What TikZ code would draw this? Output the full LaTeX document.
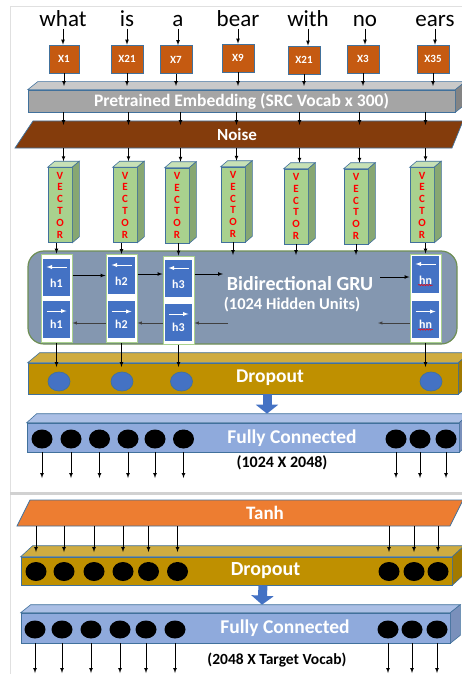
\documentclass[tikz,border=0pt]{standalone}
\usepackage{fontspec}
\setmainfont{Carlito}
\usetikzlibrary{shapes.geometric}
\usetikzlibrary{arrows,arrows.meta}
\usetikzlibrary{positioning}
\usetikzlibrary{decorations.pathmorphing}

\definecolor{tokorange}{HTML}{C55A11}
\definecolor{edgeblue}{HTML}{41719C}
\definecolor{embgray}{HTML}{A5A5A5}
\definecolor{noisebrown}{HTML}{843C0C}
\definecolor{vecgreen}{HTML}{A9D18E}
\definecolor{grublue}{HTML}{8497B0}
\definecolor{gruedge}{HTML}{6F8F55}
\definecolor{cellblue}{HTML}{4472C4}
\definecolor{dropgold}{HTML}{BF9000}
\definecolor{fcblue}{HTML}{8FAADC}
\definecolor{tanhorange}{HTML}{ED7D31}

\tikzset{
  word/.style={font=\fontsize{23}{23}\selectfont, inner sep=1pt, anchor=base},
  xbox/.style={draw=edgeblue, fill=tokorange, minimum width=32pt, minimum height=28pt,
    inner sep=0pt, text=white, font=\bfseries\fontsize{11}{11}\selectfont},
  slab/.style={draw=edgeblue, line width=0.6pt, inner sep=0pt},
  vec/.style={slab, fill=vecgreen, minimum width=24pt, minimum height=75pt, align=center,
    text=red, font=\bfseries\fontsize{11}{11.8}\selectfont},
  gru/.style={draw=gruedge, fill=grublue, line width=1.2pt, rounded corners=16pt,
    minimum width=429pt, minimum height=93pt},
  hcol/.style={draw=vecgreen, fill=white, line width=1pt, minimum width=31pt, minimum height=88pt},
  hcell/.style={fill=cellblue, minimum width=27pt, minimum height=37pt, inner sep=0pt},
  hlabel/.style={text=white, inner sep=0.5pt, font=\bfseries\fontsize{12}{12}\selectfont},
  cellarrow/.style={white, line width=0.9pt},
  bandtext/.style={text=white, inner sep=0pt, font=\bfseries\fontsize{19.5}{19.5}\selectfont},
  dimtext/.style={inner sep=0pt, font=\bfseries\fontsize{15.5}{15.5}\selectfont},
  bluedot/.style={ellipse, draw=edgeblue, fill=cellblue, minimum width=22pt, minimum height=19pt, inner sep=0pt},
  blackdot/.style={ellipse, fill=black, minimum width=21pt, minimum height=19pt, inner sep=0pt},
  backarrow/.style={->, black!75, line width=0.5pt},
  fatarrow/.style={cellblue, line width=9pt, -{Triangle[width=22pt,length=9pt]}},
  wavy/.style={red, line width=0.5pt, decorate, decoration={snake, amplitude=0.7pt, segment length=2.6pt}}
}

\newcommand{\slabfaces}[5]{%
  \filldraw[draw=edgeblue, line width=0.6pt, fill=#4] (#1.north west) -- ([shift={(#2,-#3)}]#1.north west)
    -- ([shift={(#2,-#3)}]#1.north east) -- (#1.north east) -- cycle;
  \filldraw[draw=edgeblue, line width=0.6pt, fill=#5] (#1.north east) -- ([shift={(#2,-#3)}]#1.north east)
    -- ([shift={(#2,-#3)}]#1.south east) -- (#1.south east) -- cycle;
}

\begin{document}
\begin{tikzpicture}[x=1pt, y=-1pt, >=latex, line width=0.7pt]
\useasboundingbox (0,0) rectangle (462,674);
\draw[black!12, line width=1pt] (10,674) -- (10,7) -- (462,7);
\draw[black!18, line width=2.5pt] (10,493.5) -- (462,493.5);

% input words and token ids
\node[word] (w1) at (63,27) {what};
\node[word] (w2) at (127,27) {is};
\node[word] (w3) at (178,27) {a};
\node[word] (w4) at (238,27) {bear};
\node[word] (w5) at (308,27) {with};
\node[word] (w6) at (365,27) {no};
\node[word] (w7) at (435,27) {ears};
\node[xbox, minimum width=30pt] (x1) at (64,59) {X1};
\node[xbox] (x2) at (127,59) {X21};
\node[xbox] (x3) at (176,59.5) {X7};
\node[xbox] (x4) at (238,58) {X9};
\node[xbox] (x5) at (304,60) {X21};
\node[xbox] (x6) at (363,59) {X3};
\node[xbox] (x7) at (433,59) {X35};
\foreach \i in {1,...,7} \draw[->] (w\i) -- (w\i |- x\i.north);

% embedding + noise
\node[slab, fill=embgray, minimum width=427pt, minimum height=22pt, text=white,
  font=\bfseries\fontsize{17.5}{17.5}\selectfont] (emb) at (241.5,101) {Pretrained Embedding (SRC Vocab x 300)};
\slabfaces{emb}{10}{8}{embgray!60!white}{embgray!80!black}
\coordinate (embtop) at (0,86);
\foreach \i in {1,...,7} \draw[->] (x\i) -- (x\i |- embtop);

\filldraw[draw=edgeblue, fill=noisebrown] (15,148) -- (33,121) -- (463,121) -- (452,148) -- cycle;
\node[bandtext, minimum height=27pt, font=\bfseries\fontsize{17}{17}\selectfont] (noise) at (237,134.5) {Noise};
\coordinate (noisetop) at (0,125);

% vectors
\node[vec] (v1) at (60,205) {V\\E\\C\\T\\O\\R};
\node[vec] (v2) at (125,205) {V\\E\\C\\T\\O\\R};
\node[vec] (v3) at (177,205.5) {V\\E\\C\\T\\O\\R};
\node[vec] (v4) at (233,204.5) {V\\E\\C\\T\\O\\R};
\node[vec] (v5) at (296,206.5) {V\\E\\C\\T\\O\\R};
\node[vec] (v6) at (356,206.5) {V\\E\\C\\T\\O\\R};
\node[vec] (v7) at (422,205) {V\\E\\C\\T\\O\\R};
\foreach \i in {1,...,7} {
  \slabfaces{v\i}{7}{6}{vecgreen!65!white}{vecgreen!80!black}
  \coordinate (vt\i) at ([shift={(3.5,-6)}]v\i.north);
  \draw[->] (emb.south -| vt\i) -- (noisetop -| vt\i);
  \draw[->] (noise.south -| vt\i) -- (vt\i);
}

% bidirectional GRU
\node[gru] (gru) at (242.5,297.5) {};
\node[hcol] (c1) at (56.5,298) {};
\node[hcol] (c2) at (121.5,298.5) {};
\node[hcol] (c3) at (178.5,300) {};
\node[hcol] (cn) at (425.5,298) {};
\node[hcell] (hb1) at (56.5,277.5) {};
\node[hcell] (hf1) at (56.5,319) {};
\node[hcell] (hb2) at (121.5,275.5) {};
\node[hcell] (hf2) at (121.5,319.5) {};
\node[hcell] (hb3) at (178.5,278.5) {};
\node[hcell] (hf3) at (178.5,322) {};
\node[hcell] (hbn) at (425.5,274.5) {};
\node[hcell] (hfn) at (425.5,319.5) {};
\foreach \c in {1,2,3,n} {
  \draw[cellarrow, <-] ([shift={(-10,-10.5)}]hb\c.center) -- ([shift={(10,-10.5)}]hb\c.center);
  \draw[cellarrow, ->] ([shift={(-10,-8)}]hf\c.center) -- ([shift={(10,-8)}]hf\c.center);
  \node[hlabel] (lb\c) at ([shift={(0,5.5)}]hb\c.center) {h\c};
  \node[hlabel] (lf\c) at ([shift={(0,5)}]hf\c.center) {h\c};
}
\draw[wavy] (lbn.south west) -- (lbn.south east);
\draw[wavy] (lfn.south west) -- (lfn.south east);

\node[bandtext, font=\bfseries\fontsize{20}{20}\selectfont] (grutitle) at (300,284) {Bidirectional GRU};
\node[bandtext, font=\bfseries\fontsize{16.5}{16.5}\selectfont] (gruunits) at (292,305) {(1024 Hidden Units)};

\coordinate (gruR1) at (223,274);
\coordinate (gruL1) at (380,277);
\coordinate (gruR2) at (228,323);
\coordinate (gruL2) at (378,323);
\draw[->] (c1.east |- hb2) -- (c2.west |- hb2);
\draw[->] (c2.east |- gruR1) -- (c3.west |- gruR1);
\draw[->] (c3.east |- gruR1) -- (gruR1);
\draw[->] (gruL1) -- (cn.west |- gruL1);
\draw[backarrow] (c2.west |- gruR2) -- (c1.east |- gruR2);
\draw[backarrow] (c3.west |- gruR2) -- (c2.east |- gruR2);
\draw[backarrow] (gruR2) -- (c3.east |- gruR2);
\draw[backarrow] (cn.west |- gruL2) -- (gruL2);

\coordinate (grutop) at (0,255);
\draw[->] (v1.south -| c1) -- (c1.north);
\draw[->] (v2.south -| c2) -- (c2.north);
\draw[->] (v3.south -| c3) -- (c3.north);
\draw[->] (v7.south -| cn) -- (cn.north);
\foreach \i in {4,5,6} \draw[->] (v\i.south) -- (v\i.south |- grutop);

% first dropout
\node[slab, fill=dropgold, minimum width=430pt, minimum height=31pt] (dr1) at (243,378.5) {};
\slabfaces{dr1}{12}{10}{dropgold!75!white}{dropgold!85!black}
\node[bandtext, font=\bfseries\fontsize{19.5}{19.5}\selectfont] (dr1text) at (270,378) {Dropout};
\node[bluedot] (d1) at (59,381.5) {};
\node[bluedot] (d2) at (122,381.5) {};
\node[bluedot] (d3) at (181.5,381.5) {};
\node[bluedot] (dn) at (431,381.5) {};
\coordinate (dtop) at (0,367);
\draw[->] (c1.south) -- (c1.south |- dtop);
\draw[->] (c2.south) -- (c2.south |- dtop);
\draw[->] (c3.south) -- (c3.south |- dtop);
\draw[->] (cn.south) -- (cn.south |- dtop);

% first fully connected
\node[slab, fill=fcblue, minimum width=432pt, minimum height=29pt] (fc1) at (243,437.5) {};
\slabfaces{fc1}{10}{9}{fcblue!75!white}{fcblue!85!black}
\node[bandtext] (fc1text) at (292,438) {Fully Connected};
\draw[fatarrow] ([xshift=24pt]dr1.south) -- ([xshift=24pt,yshift=9pt]fc1.north);
\foreach \x [count=\i] in {42,71,99.5,128,155,183.5,396,420,446}
  \node[blackdot] (fa\i) at (\x,439) {};
\coordinate (fc1out) at (0,478);
\foreach \i in {1,...,9} \draw[->] (fa\i |- fc1.south) -- (fa\i |- fc1out);
\node[dimtext, font=\bfseries\fontsize{16}{16}\selectfont] (fc1dim) at (282,463) {(1024 X 2048)};

% tanh + second dropout
\filldraw[draw=edgeblue, fill=tanhorange] (17,526) -- (30,500) -- (463,500) -- (450,526) -- cycle;
\node[bandtext, minimum height=26pt, font=\bfseries\fontsize{19}{19}\selectfont] (tanh) at (265,513) {Tanh};

\node[slab, fill=dropgold, minimum width=431pt, minimum height=28pt] (dr2) at (236.5,571) {};
\slabfaces{dr2}{12}{11}{dropgold!75!white}{dropgold!85!black}
\node[bandtext, font=\bfseries\fontsize{20}{20}\selectfont] (dr2text) at (265.5,571) {Dropout};
\foreach \x [count=\i] in {36,64,94,123,148.5,177.5,389,414,438}
  \node[blackdot] (dc\i) at (\x,571.5) {};
\coordinate (dr2top) at (0,552);
\foreach \i in {1,...,9} \draw[->] (tanh.south -| dc\i) -- (dc\i |- dr2top);

% second fully connected
\node[slab, fill=fcblue, minimum width=429pt, minimum height=30pt] (fc2) at (235.5,628) {};
\slabfaces{fc2}{10}{8}{fcblue!75!white}{fcblue!85!black}
\node[bandtext] (fc2text) at (285,628) {Fully Connected};
\draw[fatarrow] ([xshift=26.5pt]dr2.south) -- ([xshift=26.5pt,yshift=8pt]fc2.north);
\foreach \x [count=\i] in {35,62,91,120,146,175,388,412,437}
  \node[blackdot, minimum height=18pt] (fb\i) at (\x,629.5) {};
\coordinate (fc2out) at (0,673);
\foreach \i in {1,...,9} \draw[->] (fb\i |- fc2.south) -- (fb\i |- fc2out);
\node[dimtext] (fc2dim) at (277,660) {(2048 X Target Vocab)};
\end{tikzpicture}
\end{document}
